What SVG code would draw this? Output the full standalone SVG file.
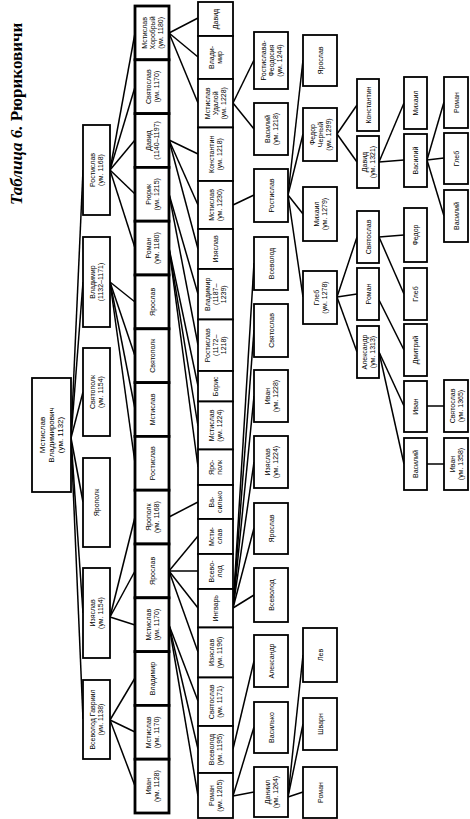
<svg xmlns="http://www.w3.org/2000/svg" width="470" height="819" viewBox="0 0 470 819">
<style>
rect{fill:#fff;stroke:#000;stroke-width:1.8}
.c3 rect{stroke-width:2.8}
text{font-family:"Liberation Sans",Arial,sans-serif;font-size:7px;fill:#000;text-anchor:middle}
.root text{font-size:8px}
#connectors line{stroke:#000;stroke-width:1.5}
.title{font-family:"Liberation Serif","Times New Roman",serif;font-size:17px;font-weight:bold;text-anchor:start}
</style>
<rect x="0" y="0" width="470" height="819" style="stroke:none;fill:#fff"/>
<text class="title" transform="translate(22,205) rotate(-90)"><tspan font-style="italic">Таблица 6.</tspan> Рюриковичи</text>
<g id="connectors">
<line x1="71" y1="438" x2="83" y2="170"/><line x1="71" y1="438" x2="83" y2="282"/><line x1="71" y1="438" x2="83" y2="392"/><line x1="71" y1="438" x2="83" y2="502"/><line x1="71" y1="438" x2="83" y2="613"/><line x1="71" y1="438" x2="83" y2="719"/>
<line x1="110" y1="170" x2="135" y2="33"/><line x1="110" y1="170" x2="135" y2="87"/><line x1="110" y1="170" x2="135" y2="140"/><line x1="110" y1="170" x2="135" y2="194"/><line x1="110" y1="170" x2="135" y2="248"/>
<line x1="110" y1="282" x2="135" y2="302"/><line x1="110" y1="282" x2="135" y2="356"/><line x1="110" y1="282" x2="135" y2="409"/><line x1="110" y1="282" x2="135" y2="463"/>
<line x1="110" y1="617" x2="135" y2="517"/><line x1="110" y1="617" x2="135" y2="571"/><line x1="110" y1="617" x2="135" y2="625"/>
<line x1="110" y1="720" x2="135" y2="678"/><line x1="110" y1="720" x2="135" y2="732"/><line x1="110" y1="720" x2="135" y2="786"/>
<line x1="169" y1="33" x2="198" y2="18"/><line x1="169" y1="33" x2="198" y2="57"/><line x1="169" y1="33" x2="198" y2="103"/>
<line x1="169" y1="140" x2="198" y2="154"/><line x1="169" y1="140" x2="198" y2="205"/><line x1="169" y1="140" x2="198" y2="249"/>
<line x1="169" y1="194" x2="198" y2="294"/><line x1="169" y1="194" x2="198" y2="345"/>
<line x1="169" y1="248" x2="198" y2="386"/><line x1="169" y1="248" x2="198" y2="426"/><line x1="169" y1="248" x2="198" y2="467"/>
<line x1="169" y1="517" x2="198" y2="502"/>
<line x1="169" y1="571" x2="198" y2="536"/><line x1="169" y1="571" x2="198" y2="571"/><line x1="169" y1="571" x2="198" y2="608"/><line x1="169" y1="571" x2="198" y2="652"/>
<line x1="169" y1="625" x2="198" y2="701"/><line x1="169" y1="625" x2="198" y2="749"/><line x1="169" y1="625" x2="198" y2="796"/>
<line x1="233" y1="103" x2="254" y2="60"/><line x1="233" y1="103" x2="254" y2="129"/>
<line x1="233" y1="205" x2="254" y2="195"/>
<line x1="233" y1="608" x2="254" y2="263"/><line x1="233" y1="608" x2="254" y2="330"/><line x1="233" y1="608" x2="254" y2="396"/><line x1="233" y1="608" x2="254" y2="462"/><line x1="233" y1="608" x2="254" y2="528"/><line x1="233" y1="608" x2="254" y2="595"/>
<line x1="233" y1="749" x2="254" y2="661"/>
<line x1="233" y1="796" x2="254" y2="727"/><line x1="233" y1="796" x2="254" y2="792"/>
<line x1="288" y1="195" x2="303" y2="60"/><line x1="288" y1="195" x2="303" y2="134"/><line x1="288" y1="195" x2="303" y2="214"/><line x1="288" y1="195" x2="303" y2="297"/>
<line x1="288" y1="797" x2="303" y2="655"/><line x1="288" y1="797" x2="303" y2="724"/><line x1="288" y1="797" x2="303" y2="792"/>
<line x1="337" y1="134" x2="357" y2="105"/><line x1="337" y1="134" x2="357" y2="162"/>
<line x1="337" y1="297" x2="357" y2="237"/><line x1="337" y1="297" x2="357" y2="294"/><line x1="337" y1="297" x2="357" y2="352"/>
<line x1="379" y1="162" x2="404" y2="103"/><line x1="379" y1="162" x2="404" y2="160"/>
<line x1="379" y1="237" x2="404" y2="235"/><line x1="379" y1="237" x2="404" y2="294"/>
<line x1="379" y1="300" x2="404" y2="350"/>
<line x1="379" y1="352" x2="404" y2="406"/><line x1="379" y1="352" x2="404" y2="464"/>
<line x1="427" y1="160" x2="444" y2="102"/><line x1="427" y1="160" x2="444" y2="158"/><line x1="427" y1="160" x2="444" y2="216"/>
<line x1="427" y1="406" x2="444" y2="406"/>
<line x1="427" y1="464" x2="444" y2="464"/>
</g>
<g id="n_root" class="root"><rect x="32" y="378" width="39" height="114"/><text transform="translate(51.5,435) rotate(-90)"><tspan x="0" dy="-6.2">Мстислав</tspan><tspan x="0" dy="9">Владимирович</tspan><tspan x="0" dy="9">(ум. 1132)</tspan></text></g>
<g id="n2_rostislav"><rect x="83" y="125" width="27" height="90"/><text transform="translate(96.5,170) rotate(-90)"><tspan x="0" dy="-1.5">Ростислав</tspan><tspan x="0" dy="8">(ум. 1168)</tspan></text></g>
<g id="n2_vladimir"><rect x="83" y="237" width="27" height="90"/><text transform="translate(96.5,282) rotate(-90)"><tspan x="0" dy="-1.5">Владимир</tspan><tspan x="0" dy="8">(1132–1171)</tspan></text></g>
<g id="n2_svyatopolk"><rect x="83" y="348" width="27" height="88"/><text transform="translate(96.5,392) rotate(-90)"><tspan x="0" dy="-1.5">Святополк</tspan><tspan x="0" dy="8">(ум. 1154)</tspan></text></g>
<g id="n2_yaropolk"><rect x="83" y="458" width="27" height="89"/><text transform="translate(96.5,502.5) rotate(-90)"><tspan x="0" dy="2.5">Ярополк</tspan></text></g>
<g id="n2_izyaslav"><rect x="83" y="568" width="27" height="90"/><text transform="translate(96.5,613) rotate(-90)"><tspan x="0" dy="-1.5">Изяслав</tspan><tspan x="0" dy="8">(ум. 1154)</tspan></text></g>
<g id="n2_vsevolod"><rect x="83" y="680" width="27" height="79"/><text transform="translate(96.5,719.5) rotate(-90)"><tspan x="0" dy="-1.5">Всеволод Гавриил</tspan><tspan x="0" dy="8">(ум. 1138)</tspan></text></g>
<g class="c3">
<g id="n3_0"><rect x="135" y="6" width="34" height="53.8"/><text transform="translate(152,32.9) rotate(-90)"><tspan x="0" dy="-5.5">Мстислав</tspan><tspan x="0" dy="8">Хоробрый</tspan><tspan x="0" dy="8">(ум. 1180)</tspan></text></g>
<g id="n3_1"><rect x="135" y="59.8" width="34" height="53.8"/><text transform="translate(152,86.7) rotate(-90)"><tspan x="0" dy="-1.5">Святослав</tspan><tspan x="0" dy="8">(ум. 1170)</tspan></text></g>
<g id="n3_2"><rect x="135" y="113.6" width="34" height="53.8"/><text transform="translate(152,140.5) rotate(-90)"><tspan x="0" dy="-1.5">Давид</tspan><tspan x="0" dy="8">(1140–1197)</tspan></text></g>
<g id="n3_3"><rect x="135" y="167.4" width="34" height="53.8"/><text transform="translate(152,194.3) rotate(-90)"><tspan x="0" dy="-1.5">Рюрик</tspan><tspan x="0" dy="8">(ум. 1215)</tspan></text></g>
<g id="n3_4"><rect x="135" y="221.2" width="34" height="53.8"/><text transform="translate(152,248.1) rotate(-90)"><tspan x="0" dy="-1.5">Роман</tspan><tspan x="0" dy="8">(ум. 1180)</tspan></text></g>
<g id="n3_5"><rect x="135" y="275" width="34" height="53.8"/><text transform="translate(152,301.9) rotate(-90)"><tspan x="0" dy="2.5">Ярослав</tspan></text></g>
<g id="n3_6"><rect x="135" y="328.8" width="34" height="53.8"/><text transform="translate(152,355.7) rotate(-90)"><tspan x="0" dy="2.5">Святополк</tspan></text></g>
<g id="n3_7"><rect x="135" y="382.6" width="34" height="53.8"/><text transform="translate(152,409.5) rotate(-90)"><tspan x="0" dy="2.5">Мстислав</tspan></text></g>
<g id="n3_8"><rect x="135" y="436.4" width="34" height="53.8"/><text transform="translate(152,463.3) rotate(-90)"><tspan x="0" dy="2.5">Ростислав</tspan></text></g>
<g id="n3_9"><rect x="135" y="490.2" width="34" height="53.8"/><text transform="translate(152,517.1) rotate(-90)"><tspan x="0" dy="-1.5">Ярополк</tspan><tspan x="0" dy="8">(ум. 1168)</tspan></text></g>
<g id="n3_10"><rect x="135" y="544" width="34" height="53.8"/><text transform="translate(152,570.9) rotate(-90)"><tspan x="0" dy="2.5">Ярослав</tspan></text></g>
<g id="n3_11"><rect x="135" y="597.8" width="34" height="53.8"/><text transform="translate(152,624.7) rotate(-90)"><tspan x="0" dy="-1.5">Мстислав</tspan><tspan x="0" dy="8">(ум. 1170)</tspan></text></g>
<g id="n3_12"><rect x="135" y="651.6" width="34" height="53.8"/><text transform="translate(152,678.5) rotate(-90)"><tspan x="0" dy="2.5">Владимир</tspan></text></g>
<g id="n3_13"><rect x="135" y="705.4" width="34" height="53.8"/><text transform="translate(152,732.3) rotate(-90)"><tspan x="0" dy="-1.5">Мстислав</tspan><tspan x="0" dy="8">(ум. 1170)</tspan></text></g>
<g id="n3_14"><rect x="135" y="759.2" width="34" height="53.8"/><text transform="translate(152,786.1) rotate(-90)"><tspan x="0" dy="-1.5">Иван</tspan><tspan x="0" dy="8">(ум. 1128)</tspan></text></g>
</g>
<g id="n4_a"><rect x="198" y="2" width="35" height="34"/><text transform="translate(215.5,19) rotate(-90)"><tspan x="0" dy="2.5">Давид</tspan></text></g>
<g id="n4_b"><rect x="198" y="36" width="35" height="43"/><text transform="translate(215.5,57.5) rotate(-90)"><tspan x="0" dy="-1.5">Влади-</tspan><tspan x="0" dy="8">мир</tspan></text></g>
<g id="n4_c"><rect x="198" y="79" width="35" height="48.5"/><text transform="translate(215.5,103.3) rotate(-90)"><tspan x="0" dy="-5.5">Мстислав</tspan><tspan x="0" dy="8">Удалой</tspan><tspan x="0" dy="8">(ум. 1228)</tspan></text></g>
<g id="n4_d"><rect x="198" y="127.5" width="35" height="53.5"/><text transform="translate(215.5,154.3) rotate(-90)"><tspan x="0" dy="-1.5">Константин</tspan><tspan x="0" dy="8">(ум. 1218)</tspan></text></g>
<g id="n4_e"><rect x="198" y="181" width="35" height="48"/><text transform="translate(215.5,205) rotate(-90)"><tspan x="0" dy="-1.5">Мстислав</tspan><tspan x="0" dy="8">(ум. 1230)</tspan></text></g>
<g id="n4_f"><rect x="198" y="229" width="35" height="40"/><text transform="translate(215.5,249) rotate(-90)"><tspan x="0" dy="2.5">Изяслав</tspan></text></g>
<g id="n4_g"><rect x="198" y="269" width="35" height="50.5"/><text transform="translate(215.5,294.3) rotate(-90)"><tspan x="0" dy="-5.5">Владимир</tspan><tspan x="0" dy="8">(1187–</tspan><tspan x="0" dy="8">1239)</tspan></text></g>
<g id="n4_h"><rect x="198" y="319.5" width="35" height="51.5"/><text transform="translate(215.5,345.3) rotate(-90)"><tspan x="0" dy="-5.5">Ростислав</tspan><tspan x="0" dy="8">(1172–</tspan><tspan x="0" dy="8">1218)</tspan></text></g>
<g id="n4_i"><rect x="198" y="371" width="35" height="30.5"/><text transform="translate(215.5,386.3) rotate(-90)"><tspan x="0" dy="2.5">Борис</tspan></text></g>
<g id="n4_j"><rect x="198" y="401.5" width="35" height="48"/><text transform="translate(215.5,425.5) rotate(-90)"><tspan x="0" dy="-1.5">Мстислав</tspan><tspan x="0" dy="8">(ум. 1224)</tspan></text></g>
<g id="n4_k"><rect x="198" y="449.5" width="35" height="35.5"/><text transform="translate(215.5,467.3) rotate(-90)"><tspan x="0" dy="-1.5">Яро-</tspan><tspan x="0" dy="8">полк</tspan></text></g>
<g id="n4_l"><rect x="198" y="485" width="35" height="34"/><text transform="translate(215.5,502) rotate(-90)"><tspan x="0" dy="-1.5">Ва-</tspan><tspan x="0" dy="8">силько</tspan></text></g>
<g id="n4_m"><rect x="198" y="519" width="35" height="35"/><text transform="translate(215.5,536.5) rotate(-90)"><tspan x="0" dy="-1.5">Мсти-</tspan><tspan x="0" dy="8">слав</tspan></text></g>
<g id="n4_n"><rect x="198" y="554" width="35" height="35"/><text transform="translate(215.5,571.5) rotate(-90)"><tspan x="0" dy="-1.5">Всево-</tspan><tspan x="0" dy="8">лод</tspan></text></g>
<g id="n4_o"><rect x="198" y="589" width="35" height="38.5"/><text transform="translate(215.5,608.3) rotate(-90)"><tspan x="0" dy="2.5">Ингварь</tspan></text></g>
<g id="n4_p"><rect x="198" y="627.5" width="35" height="50"/><text transform="translate(215.5,652.5) rotate(-90)"><tspan x="0" dy="-1.5">Изяслав</tspan><tspan x="0" dy="8">(ум. 1196)</tspan></text></g>
<g id="n4_q"><rect x="198" y="677.5" width="35" height="48.5"/><text transform="translate(215.5,701.8) rotate(-90)"><tspan x="0" dy="-1.5">Святослав</tspan><tspan x="0" dy="8">(ум. 1171)</tspan></text></g>
<g id="n4_r"><rect x="198" y="726" width="35" height="47"/><text transform="translate(215.5,749.5) rotate(-90)"><tspan x="0" dy="-1.5">Всеволод</tspan><tspan x="0" dy="8">(ум. 1195)</tspan></text></g>
<g id="n4_s"><rect x="198" y="773" width="35" height="45"/><text transform="translate(215.5,795.5) rotate(-90)"><tspan x="0" dy="-1.5">Роман</tspan><tspan x="0" dy="8">(ум. 1205)</tspan></text></g>
<g id="n5_a"><rect x="254" y="32" width="34" height="57"/><text transform="translate(271,60.5) rotate(-90)"><tspan x="0" dy="-5.5">Ростислава-</tspan><tspan x="0" dy="8">Феодосия</tspan><tspan x="0" dy="8">(ум. 1244)</tspan></text></g>
<g id="n5_b"><rect x="254" y="103" width="34" height="52"/><text transform="translate(271,129) rotate(-90)"><tspan x="0" dy="-1.5">Василий</tspan><tspan x="0" dy="8">(ум. 1218)</tspan></text></g>
<g id="n5_c"><rect x="254" y="169" width="34" height="53"/><text transform="translate(271,195.5) rotate(-90)"><tspan x="0" dy="2.5">Ростислав</tspan></text></g>
<g id="n5_d"><rect x="254" y="237" width="34" height="53"/><text transform="translate(271,263.5) rotate(-90)"><tspan x="0" dy="2.5">Всеволод</tspan></text></g>
<g id="n5_e"><rect x="254" y="304" width="34" height="53"/><text transform="translate(271,330.5) rotate(-90)"><tspan x="0" dy="2.5">Святослав</tspan></text></g>
<g id="n5_f"><rect x="254" y="370" width="34" height="52"/><text transform="translate(271,396) rotate(-90)"><tspan x="0" dy="-1.5">Иван</tspan><tspan x="0" dy="8">(ум. 1228)</tspan></text></g>
<g id="n5_g"><rect x="254" y="436" width="34" height="52"/><text transform="translate(271,462) rotate(-90)"><tspan x="0" dy="-1.5">Изяслав</tspan><tspan x="0" dy="8">(ум. 1224)</tspan></text></g>
<g id="n5_h"><rect x="254" y="503" width="34" height="51"/><text transform="translate(271,528.5) rotate(-90)"><tspan x="0" dy="2.5">Ярослав</tspan></text></g>
<g id="n5_i"><rect x="254" y="568" width="34" height="54"/><text transform="translate(271,595) rotate(-90)"><tspan x="0" dy="2.5">Всеволод</tspan></text></g>
<g id="n5_j"><rect x="254" y="635" width="34" height="52"/><text transform="translate(271,661) rotate(-90)"><tspan x="0" dy="2.5">Александр</tspan></text></g>
<g id="n5_k"><rect x="254" y="702" width="34" height="51"/><text transform="translate(271,727.5) rotate(-90)"><tspan x="0" dy="2.5">Василько</tspan></text></g>
<g id="n5_l"><rect x="254" y="767" width="34" height="50"/><text transform="translate(271,792) rotate(-90)"><tspan x="0" dy="-1.5">Даниил</tspan><tspan x="0" dy="8">(ум. 1264)</tspan></text></g>
<g id="n6_a"><rect x="303" y="35" width="34" height="51"/><text transform="translate(320,60.5) rotate(-90)"><tspan x="0" dy="2.5">Ярослав</tspan></text></g>
<g id="n6_b"><rect x="303" y="108" width="34" height="53"/><text transform="translate(320,134.5) rotate(-90)"><tspan x="0" dy="-5.5">Федор</tspan><tspan x="0" dy="8">Черный</tspan><tspan x="0" dy="8">(ум. 1299)</tspan></text></g>
<g id="n6_c"><rect x="303" y="187" width="34" height="54"/><text transform="translate(320,214) rotate(-90)"><tspan x="0" dy="-1.5">Михаил</tspan><tspan x="0" dy="8">(ум. 1279)</tspan></text></g>
<g id="n6_d"><rect x="303" y="271" width="34" height="53"/><text transform="translate(320,297.5) rotate(-90)"><tspan x="0" dy="-1.5">Глеб</tspan><tspan x="0" dy="8">(ум. 1278)</tspan></text></g>
<g id="n6_e"><rect x="303" y="628" width="34" height="54"/><text transform="translate(320,655) rotate(-90)"><tspan x="0" dy="2.5">Лев</tspan></text></g>
<g id="n6_f"><rect x="303" y="698" width="34" height="52"/><text transform="translate(320,724) rotate(-90)"><tspan x="0" dy="2.5">Шварн</tspan></text></g>
<g id="n6_g"><rect x="303" y="767" width="34" height="51"/><text transform="translate(320,792.5) rotate(-90)"><tspan x="0" dy="2.5">Роман</tspan></text></g>
<g id="n7_a"><rect x="357" y="79" width="22" height="52"/><text transform="translate(368,105) rotate(-90)"><tspan x="0" dy="2.5">Константин</tspan></text></g>
<g id="n7_b"><rect x="357" y="136" width="22" height="52"/><text transform="translate(368,162) rotate(-90)"><tspan x="0" dy="-1.5">Давид</tspan><tspan x="0" dy="8">(ум. 1321)</tspan></text></g>
<g id="n7_c"><rect x="357" y="211" width="22" height="52"/><text transform="translate(368,237) rotate(-90)"><tspan x="0" dy="2.5">Святослав</tspan></text></g>
<g id="n7_d"><rect x="357" y="268" width="22" height="52"/><text transform="translate(368,294) rotate(-90)"><tspan x="0" dy="2.5">Роман</tspan></text></g>
<g id="n7_e"><rect x="357" y="326" width="22" height="52"/><text transform="translate(368,352) rotate(-90)"><tspan x="0" dy="-1.5">Александр</tspan><tspan x="0" dy="8">(ум. 1313)</tspan></text></g>
<g id="n8_a"><rect x="404" y="77" width="23" height="52"/><text transform="translate(415.5,103) rotate(-90)"><tspan x="0" dy="2.5">Михаил</tspan></text></g>
<g id="n8_b"><rect x="404" y="134" width="23" height="53"/><text transform="translate(415.5,160.5) rotate(-90)"><tspan x="0" dy="2.5">Василий</tspan></text></g>
<g id="n8_c"><rect x="404" y="208" width="23" height="54"/><text transform="translate(415.5,235) rotate(-90)"><tspan x="0" dy="2.5">Федор</tspan></text></g>
<g id="n8_d"><rect x="404" y="268" width="23" height="52"/><text transform="translate(415.5,294) rotate(-90)"><tspan x="0" dy="2.5">Глеб</tspan></text></g>
<g id="n8_e"><rect x="404" y="324" width="23" height="52"/><text transform="translate(415.5,350) rotate(-90)"><tspan x="0" dy="2.5">Дмитрий</tspan></text></g>
<g id="n8_f"><rect x="404" y="381" width="23" height="51"/><text transform="translate(415.5,406.5) rotate(-90)"><tspan x="0" dy="2.5">Иван</tspan></text></g>
<g id="n8_g"><rect x="404" y="438" width="23" height="52"/><text transform="translate(415.5,464) rotate(-90)"><tspan x="0" dy="2.5">Василий</tspan></text></g>
<g id="n9_a"><rect x="444" y="77" width="24" height="51"/><text transform="translate(456,102.5) rotate(-90)"><tspan x="0" dy="2.5">Роман</tspan></text></g>
<g id="n9_b"><rect x="444" y="133" width="24" height="51"/><text transform="translate(456,158.5) rotate(-90)"><tspan x="0" dy="2.5">Глеб</tspan></text></g>
<g id="n9_c"><rect x="444" y="190" width="24" height="52"/><text transform="translate(456,216) rotate(-90)"><tspan x="0" dy="2.5">Василий</tspan></text></g>
<g id="n9_d"><rect x="444" y="380" width="24" height="52"/><text transform="translate(456,406) rotate(-90)"><tspan x="0" dy="-1.5">Святослав</tspan><tspan x="0" dy="8">(ум. 1365)</tspan></text></g>
<g id="n9_e"><rect x="444" y="438" width="24" height="52"/><text transform="translate(456,464) rotate(-90)"><tspan x="0" dy="-1.5">Иван</tspan><tspan x="0" dy="8">(ум. 1358)</tspan></text></g>
</svg>
